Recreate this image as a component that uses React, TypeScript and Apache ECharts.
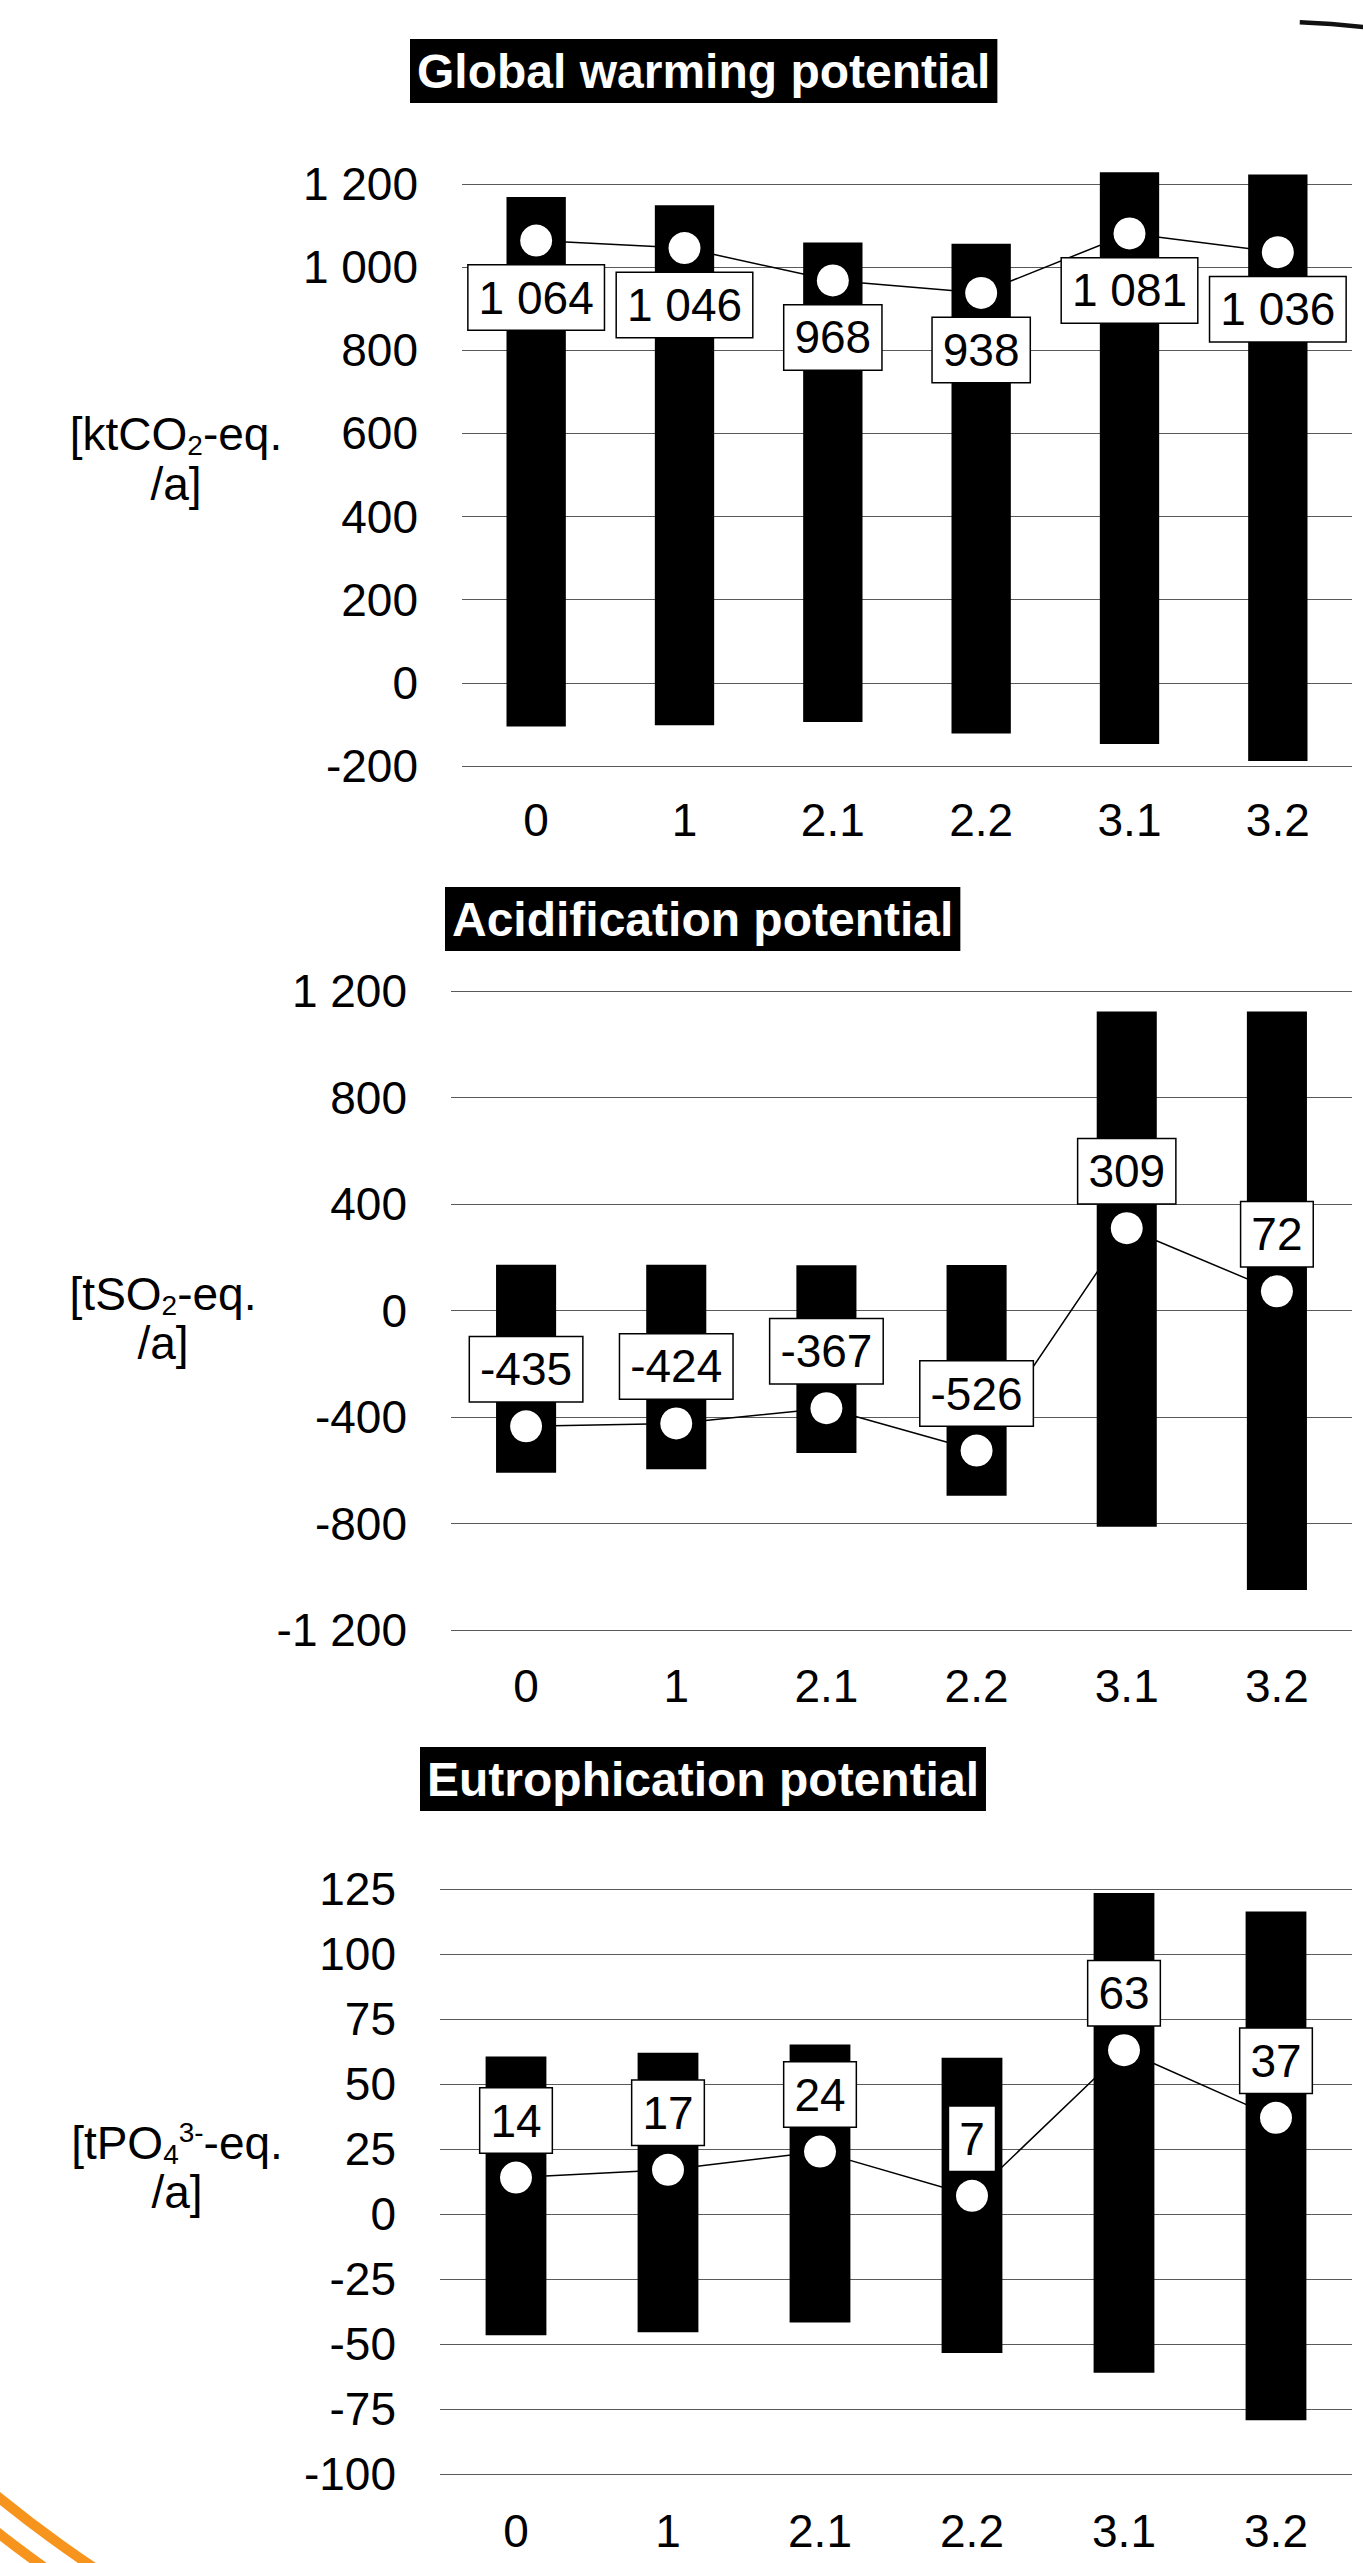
import React, { useEffect, useRef } from 'react';
import * as echarts from 'echarts';

const FONT = '"Liberation Sans", Arial, Helvetica, sans-serif';

const categories = ['0', '1', '2.1', '2.2', '3.1', '3.2'];

// Global warming potential [ktCO2-eq./a]
const gwpValues = [1064, 1046, 968, 938, 1081, 1036];
const gwpMax = [1169, 1149, 1059, 1056, 1228, 1223];
const gwpMin = [-105, -102, -94, -122, -147, -188];
const gwpTicks = [-200, 0, 200, 400, 600, 800, 1000, 1200];

// Acidification potential [tSO2-eq./a]
const apValues = [-435, -424, -367, -526, 309, 72];
const apMax = [172, 172, 170, 171, 1123, 1123];
const apMin = [-609, -596, -535, -696, -812, -1050];
const apTicks = [-1200, -800, -400, 0, 400, 800, 1200];

// Eutrophication potential [tPO4(3-)-eq./a]
const epValues = [14, 17, 24, 7, 63, 37];
const epMax = [60.6, 62, 65.2, 60.1, 123.5, 116.3];
const epMin = [-46.6, -45.5, -41.7, -53.5, -61.1, -79.3];
const epTicks = [-100, -75, -50, -25, 0, 25, 50, 75, 100, 125];

const titles = ['Global warming potential', 'Acidification potential', 'Eutrophication potential'];

function fmt(n: number): string {
  const neg = n < 0;
  const s = String(Math.round(Math.abs(n))).replace(/\B(?=(\d{3})+(?!\d))/g, ' ');
  return (neg ? '-' : '') + s;
}

const panels = [
  {
    title: titles[0], titleLeft: 410, titleTop: 39,
    gridLeft: 462, gridTop: 184, gridHeight: 582,
    ticks: gwpTicks, values: gwpValues, lo: gwpMin, hi: gwpMax,
    labelPos: 'bottom', xMargin: 31,
    nameX: 176, nameY1: 434, nameY2: 484,
    nameRich: '{m|[ktCO}{s|2}{m|-eq.}',
  },
  {
    title: titles[1], titleLeft: 445, titleTop: 887,
    gridLeft: 451, gridTop: 991, gridHeight: 639,
    ticks: apTicks, values: apValues, lo: apMin, hi: apMax,
    labelPos: 'top', xMargin: 33,
    nameX: 163, nameY1: 1294, nameY2: 1343,
    nameRich: '{m|[tSO}{s|2}{m|-eq.}',
  },
  {
    title: titles[2], titleLeft: 420, titleTop: 1747,
    gridLeft: 440, gridTop: 1889, gridHeight: 585,
    ticks: epTicks, values: epValues, lo: epMin, hi: epMax,
    labelPos: 'top', xMargin: 34,
    nameX: 177, nameY1: 2143, nameY2: 2192,
    nameRich: '{m|[tPO}{s4|4}{p|3-}{m|-eq.}',
  },
];

export default function App() {
  const ref = useRef<HTMLDivElement>(null);

  useEffect(() => {
    if (!ref.current) return;
    const chart = echarts.init(ref.current, null, { renderer: 'svg' });

    const grid: any[] = [];
    const xAxis: any[] = [];
    const yAxis: any[] = [];
    const series: any[] = [];
    const title: any[] = [];
    const graphic: any[] = [];

    panels.forEach((p, i) => {
      title.push({
        text: p.title,
        left: p.titleLeft,
        top: p.titleTop,
        backgroundColor: '#000',
        padding: [8, 7],
        textStyle: { color: '#fff', fontSize: 48, fontWeight: 'bold', fontFamily: FONT, lineHeight: 48 },
      });
      grid.push({
        left: p.gridLeft,
        right: 11,
        top: p.gridTop,
        height: p.gridHeight,
        containLabel: false,
        outerBoundsMode: 'none',
      });
      xAxis.push({
        type: 'category',
        gridIndex: i,
        data: categories,
        axisTick: { show: false },
        axisLine: { show: false },
        splitLine: { show: false },
        axisLabel: { margin: p.xMargin, fontSize: 46, color: '#000', fontFamily: FONT },
      });
      yAxis.push({
        type: 'value',
        gridIndex: i,
        min: p.ticks[0],
        max: p.ticks[p.ticks.length - 1],
        interval: p.ticks[1] - p.ticks[0],
        axisLine: { show: false },
        axisTick: { show: false },
        splitLine: { show: true, lineStyle: { color: '#5a5a5a', width: 1 } },
        axisLabel: { margin: 44, fontSize: 46, color: '#000', fontFamily: FONT, formatter: (v: number) => fmt(v) },
      });
      series.push({
        type: 'line',
        xAxisIndex: i,
        yAxisIndex: i,
        data: p.values,
        symbol: 'none',
        lineStyle: { color: '#000', width: 1.5 },
        z: 1,
        silent: true,
      });
      series.push({
        type: 'custom',
        xAxisIndex: i,
        yAxisIndex: i,
        data: p.lo.map((l, k) => [k, l, p.hi[k]]),
        encode: { x: 0, y: [1, 2] },
        z: 2,
        silent: true,
        renderItem: (params: any, api: any) => {
          const x = api.value(0);
          const a = api.coord([x, api.value(1)]);
          const b = api.coord([x, api.value(2)]);
          const w = api.size([1, 0])[0] * 0.4;
          return {
            type: 'rect',
            shape: { x: a[0] - w / 2, y: b[1], width: w, height: a[1] - b[1] },
            style: { fill: '#000' },
          };
        },
      });
      series.push({
        type: 'scatter',
        xAxisIndex: i,
        yAxisIndex: i,
        data: p.values,
        symbol: 'circle',
        symbolSize: 32,
        itemStyle: { color: '#fff', opacity: 1 },
        z: 3,
        silent: true,
        label: {
          show: true,
          position: p.labelPos,
          distance: 9,
          formatter: (params: any) => fmt(params.value),
          fontSize: 46,
          lineHeight: 46,
          fontFamily: FONT,
          color: '#000',
          opacity: 1,
          backgroundColor: '#fff',
          borderColor: '#000',
          borderWidth: 1.5,
          padding: [9, 10],
        },
      });

      const richStyles = {
        m: { fontSize: 46, lineHeight: 50, fontFamily: FONT, fill: '#000' },
        s: { fontSize: 28, lineHeight: 16, verticalAlign: 'bottom', fontFamily: FONT, fill: '#000' },
        s4: { fontSize: 28, lineHeight: 30, verticalAlign: 'bottom', fontFamily: FONT, fill: '#000' },
        p: { fontSize: 28, lineHeight: 36, verticalAlign: 'top', fontFamily: FONT, fill: '#000' },
      };
      graphic.push({
        type: 'text',
        x: p.nameX,
        y: p.nameY1,
        silent: true,
        style: {
          text: p.nameRich,
          rich: richStyles,
          align: 'center',
          verticalAlign: 'middle',
          fontSize: 46,
          fontFamily: FONT,
          fill: '#000',
        },
      });
      graphic.push({
        type: 'text',
        x: p.nameX,
        y: p.nameY2,
        silent: true,
        style: {
          text: '/a]',
          align: 'center',
          verticalAlign: 'middle',
          fontSize: 46,
          fontFamily: FONT,
          fill: '#000',
        },
      });
    });

    // decorative fragments of the slide background
    graphic.push({
      type: 'arc',
      silent: true,
      shape: { cx: 1279, cy: 722, r: 700, startAngle: (-88.3 * Math.PI) / 180, endAngle: (-78 * Math.PI) / 180, clockwise: true },
      style: { stroke: '#111', lineWidth: 4.5, fill: null, lineCap: 'butt' },
    });
    graphic.push({
      type: 'arc',
      silent: true,
      shape: { cx: 818, cy: 1488, r: 1300, startAngle: (118 * Math.PI) / 180, endAngle: (136 * Math.PI) / 180, clockwise: true },
      style: { stroke: '#F7941D', lineWidth: 10, fill: null },
    });
    graphic.push({
      type: 'arc',
      silent: true,
      shape: { cx: 818, cy: 1488, r: 1328, startAngle: (118 * Math.PI) / 180, endAngle: (136 * Math.PI) / 180, clockwise: true },
      style: { stroke: '#F7941D', lineWidth: 10, fill: null },
    });

    chart.setOption({
      animation: false,
      backgroundColor: '#fff',
      title,
      grid,
      xAxis,
      yAxis,
      series,
      graphic,
    });

    return () => {
      chart.dispose();
    };
  }, []);

  return (
    <div
      ref={ref}
      style={{ position: 'absolute', left: 0, top: 0, width: 1363, height: 2563 }}
    />
  );
}
